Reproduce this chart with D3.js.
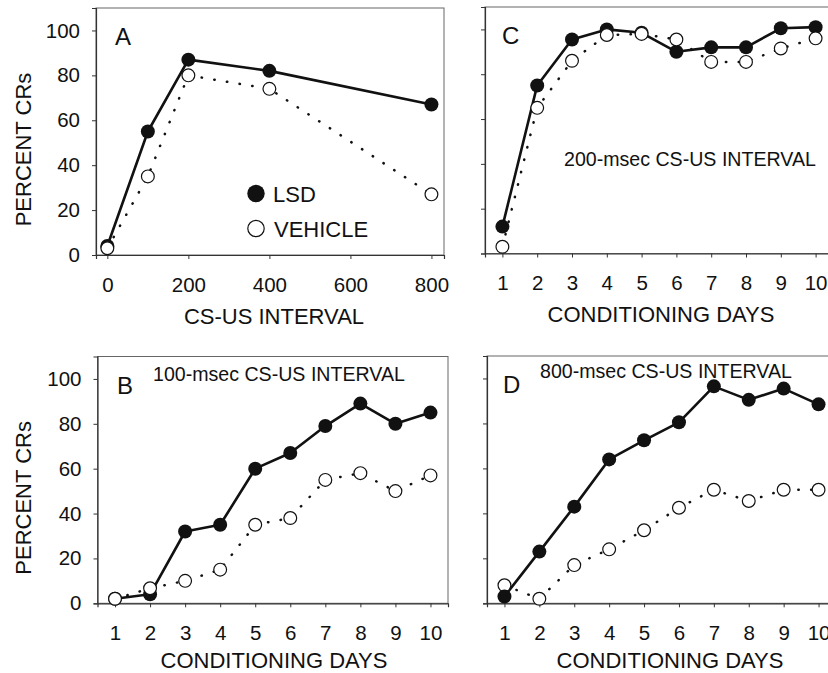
<!DOCTYPE html>
<html><head><meta charset="utf-8">
<script src="https://cdn.jsdelivr.net/npm/d3@7"></script>
<style>
body{margin:0;background:#fff}
svg text{font-family:"Liberation Sans",Arial,Helvetica,sans-serif;fill:#111}
</style></head><body>
<script>
// values (percent CRs)
const intervals=[0,100,200,400,800]
const days=[1,2,3,4,5,6,7,8,9,10]
const aLSD=[4,55,87,82,67]
const aVEH=[3,35,80,74,27]
const cLSD=[12,75,95.5,100,98.5,90,92,92,100.5,101]
const cVEH=[3,65,86,97.5,98,95.5,85.5,85.5,91.5,96]
const bLSD=[2,4,32,35,60,67,79,89,80,85]
const bVEH=[2,6.7,10,15,35,38,55,58,50,57]
const dLSD=[3,23,43,64,72.5,80.5,96.5,90.5,95.5,88.5]
const dVEH=[8,2,17,24,32.5,42.5,50.5,45.5,50.5,50.5]
const yTicks=[0,20,40,60,80,100]
const intervalTicks=[0,200,400,600,800]

//layout of the four panels (pixels)
var panels=[
	{letter:"A",xs:intervals,lsd:aLSD,veh:aVEH,xdom:[-28,831],xticks:intervalTicks,box:{l:96,r:444,t:8,b:255},
		ylab:true,xtitle:"CS-US INTERVAL",tx:274,ty:324,lx:115,ly:45,note:null,legend:true,lsdTop:false},
	{letter:"C",xs:days,lsd:cLSD,veh:cVEH,xdom:[0.5,10.5],xticks:days,box:{l:485,r:833,t:7,b:253.5},
		ylab:false,xtitle:"CONDITIONING DAYS",tx:661,ty:322,lx:502,ly:44,note:"200-msec CS-US INTERVAL",nx:564,ny:166,legend:false,lsdTop:false},
	{letter:"B",xs:days,lsd:bLSD,veh:bVEH,xdom:[0.5,10.5],xticks:days,box:{l:97.5,r:448,t:356.5,b:603.3},
		ylab:true,xtitle:"CONDITIONING DAYS",tx:274,ty:668,lx:117,ly:394,note:"100-msec CS-US INTERVAL",nx:153,ny:381,legend:false,lsdTop:false},
	{letter:"D",xs:days,lsd:dLSD,veh:dVEH,xdom:[0.5,10.5],xticks:days,box:{l:487,r:836,t:356,b:603.3},
		ylab:false,xtitle:"CONDITIONING DAYS",tx:670,ty:668,lx:503,ly:393,note:"800-msec CS-US INTERVAL",nx:540,ny:378,legend:false,lsdTop:true},
]

const svg=d3.select("body").append("svg").attr("width",828).attr("height",673)

for(const p of panels){
	drawPanel(p)
}

function drawPanel(p){
	const b=p.box
	const x=d3.scaleLinear().domain(p.xdom).range([b.l,b.r])
	const y=d3.scaleLinear().domain([0,110]).range([b.b,b.t])
	const g=svg.append("g")

	g.append("rect").attr("x",b.l).attr("y",b.t).attr("width",b.r-b.l).attr("height",b.b-b.t)
		.attr("fill","none").attr("stroke","#666").attr("stroke-width",1)

	let ya=d3.axisLeft(y).tickValues(yTicks).tickSize(4).tickPadding(12)
	if(!p.ylab) ya.tickFormat("")
	let yg=g.append("g").attr("transform","translate("+b.l+",0)").call(ya)
	let xg=g.append("g").attr("transform","translate(0,"+b.b+")")
		.call(d3.axisBottom(x).tickValues(p.xticks).tickSize(4).tickPadding(18).tickFormat(d3.format("d")))
	for(const a of [yg,xg]){
		a.select(".domain").attr("stroke","#333").attr("stroke-width",1.2)
		a.selectAll(".tick line").attr("stroke","#333")
		a.selectAll(".tick text").attr("font-size",20.5).attr("fill","#111")
			.style("font-family","'Liberation Sans',Arial,sans-serif")
	}

	if(p.ylab){
		let cy=(b.t+b.b)/2+18
		g.append("text").attr("transform","translate(31,"+cy+") rotate(-90)")
			.attr("text-anchor","middle").attr("font-size",22).text("PERCENT CRs")
	}
	g.append("text").attr("x",p.tx).attr("y",p.ty).attr("text-anchor","middle")
		.attr("font-size",22).text(p.xtitle)
	g.append("text").attr("x",p.lx).attr("y",p.ly).attr("font-size",24).text(p.letter)
	if(p.note){
		g.append("text").attr("x",p.nx).attr("y",p.ny).attr("font-size",19.6).text(p.note)
	}

	const pts=(vals)=>vals.map((v,i)=>[p.xs[i],v])
	const line=d3.line().x(d=>x(d[0])).y(d=>y(d[1]))

	g.append("path").attr("d",line(pts(p.veh))).attr("fill","none").attr("stroke","#111")
		.attr("stroke-width",2.5).attr("stroke-linecap","round").attr("stroke-dasharray","0.4,12.4")
	g.append("path").attr("d",line(pts(p.lsd))).attr("fill","none").attr("stroke","#111")
		.attr("stroke-width",2.6).attr("stroke-linejoin","round")

	const drawVeh=()=>g.append("g").selectAll("circle").data(pts(p.veh)).join("circle")
		.attr("cx",d=>x(d[0])).attr("cy",d=>y(d[1])).attr("r",6.4)
		.attr("fill","#fff").attr("stroke","#111").attr("stroke-width",1.2)
	const drawLsd=()=>g.append("g").selectAll("circle").data(pts(p.lsd)).join("circle")
		.attr("cx",d=>x(d[0])).attr("cy",d=>y(d[1])).attr("r",7)
		.attr("fill","#111")
	if(p.lsdTop){drawVeh();drawLsd()}else{drawLsd();drawVeh()}

	if(p.legend){
		let lg=g.append("g")
		lg.append("circle").attr("cx",256).attr("cy",193.5).attr("r",8.7).attr("fill","#111")
		lg.append("circle").attr("cx",256).attr("cy",228.5).attr("r",8.2).attr("fill","#fff")
			.attr("stroke","#111").attr("stroke-width",1.2)
		lg.append("text").attr("x",273).attr("y",202).attr("font-size",22).text("LSD")
		lg.append("text").attr("x",274).attr("y",237).attr("font-size",22).text("VEHICLE")
	}
}
</script>
</body></html>
